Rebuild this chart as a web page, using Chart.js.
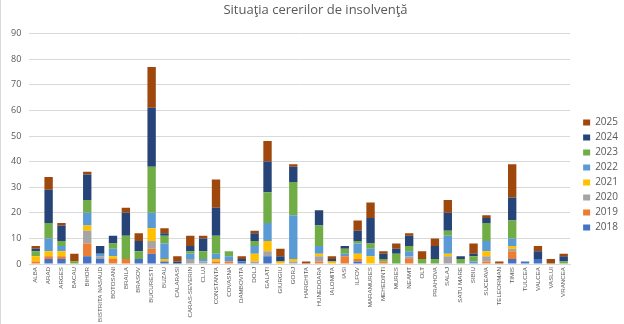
<!DOCTYPE html>
<html>
<head>
<meta charset="utf-8">
<script src="https://cdn.jsdelivr.net/npm/chart.js@4"></script>
<style>
    html, body { margin: 0; padding: 0; background: #ffffff; }
    #wrap { position: relative; width: 624px; height: 324px; box-sizing: border-box; border-left: 1px solid #d9d9d9; }
</style>
</head>
<body>
<div id="wrap"><canvas id="chart"></canvas></div>
<script>
// === DATA ===
const counties = [
    'ALBA', 'ARAD', 'ARGES', 'BACAU', 'BIHOR', 'BISTRITA NASAUD', 'BOTOSANI', 'BRAILA', 'BRASOV',
    'BUCURESTI', 'BUZAU', 'CALARASI', 'CARAS-SEVERIN', 'CLUJ', 'CONSTANTA', 'COVASNA', 'DAMBOVITA',
    'DOLJ', 'GALATI', 'GIURGIU', 'GORJ', 'HARGHITA', 'HUNEDOARA', 'IALOMITA', 'IASI', 'ILFOV',
    'MARAMURES', 'MEHEDINTI', 'MURES', 'NEAMT', 'OLT', 'PRAHOVA', 'SALAJ', 'SATU MARE', 'SIBIU',
    'SUCEAVA', 'TELEORMAN', 'TIMIS', 'TULCEA', 'VALCEA', 'VASLUI', 'VRANCEA',
];

const y2018 = [0, 2, 2, 0, 3, 2, 0, 0, 2, 4, 1, 0, 0, 0, 0, 0, 1, 0, 3, 0, 0, 0, 0, 0, 0, 1, 0, 0, 0, 0, 0, 0, 0, 0, 0, 0, 0, 2, 1, 2, 0, 0];
const y2019 = [1, 1, 1, 0, 5, 0, 2, 2, 0, 2, 0, 0, 0, 0, 1, 1, 0, 0, 0, 0, 0, 0, 1, 0, 3, 1, 0, 1, 0, 2, 0, 0, 0, 0, 0, 1, 0, 3, 0, 0, 0, 0];
const y2020 = [0, 0, 0, 0, 5, 1, 0, 0, 0, 3, 0, 0, 2, 1, 0, 0, 0, 1, 2, 0, 1, 0, 2, 0, 0, 0, 0, 0, 0, 1, 0, 0, 3, 0, 0, 2, 0, 1, 0, 0, 0, 0];
const y2021 = [2, 2, 2, 0, 2, 0, 1, 0, 0, 5, 1, 0, 0, 0, 1, 0, 0, 3, 4, 1, 1, 0, 1, 1, 0, 2, 3, 0, 0, 0, 0, 0, 1, 0, 0, 2, 0, 1, 0, 0, 0, 0];
const y2022 = [0, 5, 2, 0, 5, 1, 3, 0, 0, 6, 6, 0, 2, 1, 2, 2, 0, 3, 7, 0, 17, 0, 3, 0, 1, 4, 3, 0, 0, 2, 0, 0, 7, 0, 1, 4, 0, 3, 0, 0, 0, 0];
const y2023 = [2, 6, 2, 1, 5, 0, 2, 9, 3, 18, 3, 0, 1, 3, 7, 2, 0, 2, 12, 0, 13, 0, 8, 0, 2, 1, 2, 1, 4, 2, 2, 2, 2, 2, 2, 7, 0, 7, 0, 0, 0, 1];
const y2024 = [1, 13, 6, 0, 10, 3, 3, 9, 4, 23, 1, 1, 2, 5, 11, 0, 1, 3, 12, 2, 6, 0, 6, 1, 1, 4, 10, 2, 2, 4, 0, 5, 7, 1, 1, 2, 0, 9, 0, 3, 0, 2];
const y2025 = [1, 5, 1, 3, 1, 0, 0, 2, 3, 16, 2, 2, 4, 1, 11, 0, 1, 1, 8, 3, 1, 1, 0, 1, 0, 4, 6, 1, 2, 1, 3, 3, 5, 0, 4, 1, 1, 13, 0, 2, 2, 1];

const yearLabels = ['2018', '2019', '2020', '2021', '2022', '2023', '2024', '2025'];
const yearValues = [y2018, y2019, y2020, y2021, y2022, y2023, y2024, y2025];

const COLORS = {
    years: ['#4472C4', '#ED7D31', '#A5A5A5', '#FFC000', '#5B9BD5', '#70AD47', '#264478', '#9E480E'],
    grid:  '#d9d9d9',
    text:  '#595959',
};

// === X LABEL FONT ===
// the reference uses a narrow face: take Liberation Sans Narrow if it is there,
// then size it so the longest county name fits in the space under the axis
function pickLabelFont() {
    const ctx = document.createElement('canvas').getContext('2d');
    const widthOf = family => { ctx.font = `10px ${family}`; return ctx.measureText('BISTRITA NASAUD').width; };
    const narrow  = widthOf('"Liberation Sans Narrow", "Liberation Sans"');
    const regular = widthOf('"Liberation Sans"');
    const family  = narrow < regular * 0.92 ? 'Liberation Sans Narrow' : 'Liberation Sans';
    const width   = Math.min(narrow, regular);
    return { family, size: Math.min(8, 10 * 55 / width) };
}
const labelFont = pickLabelFont();

// === CHART ===
const datasets = yearLabels.map((label, i) => ({
    label,
    data:            yearValues[i],
    backgroundColor: COLORS.years[i],
    barPercentage:      0.65,
    categoryPercentage: 1,
}));

new Chart(document.getElementById('chart').getContext('2d'), {
    type: 'bar',
    data: { labels: counties, datasets },
    options: {
        responsive: true,
        maintainAspectRatio: false,
        animation: false,
        layout: { padding: { left: 2, right: -4, top: 0, bottom: 0 } },
        plugins: {
            title: {
                display: true,
                text:    'Situaţia cererilor de insolvenţă',
                color:   COLORS.text,
                font:    { family: 'Open Sans', size: 13, weight: 'normal' },
                padding: { top: 2, bottom: 16 },
            },
            legend: {
                position: 'right',
                reverse:  true,
                title:    { display: true, text: '', font: { size: 10 }, padding: { top: 7, bottom: 7 } },
                labels: {
                    color:     COLORS.text,
                    boxWidth:  7,
                    boxHeight: 6,
                    padding:   5,
                    font:      { family: 'Open Sans', size: 10 },
                },
            },
            tooltip: { enabled: false },
        },
        scales: {
            x: {
                stacked: true,
                grid:    { display: false, drawTicks: false },
                border:  { color: COLORS.grid },
                ticks: {
                    color:       COLORS.text,
                    autoSkip:    false,
                    maxRotation: 90,
                    minRotation: 90,
                    padding:     3,
                    font:        { family: `"${labelFont.family}"`, size: labelFont.size },
                },
                afterFit: scale => { scale.height = 60; },
            },
            y: {
                stacked: true,
                min: 0,
                max: 90,
                grid:   { color: COLORS.grid, drawTicks: false },
                border: { display: false },
                ticks: {
                    stepSize: 10,
                    color:    COLORS.text,
                    padding:  8,
                    font:     { family: 'Open Sans', size: 9 },
                },
            },
            // empty axis, only keeps a gap between the bars and the legend
            gap: {
                position: 'right',
                grid:   { display: false },
                border: { display: false },
                ticks:  { display: false },
                afterFit: scale => { scale.width = 8; },
            },
        },
    },
});
</script>
</body>
</html>
